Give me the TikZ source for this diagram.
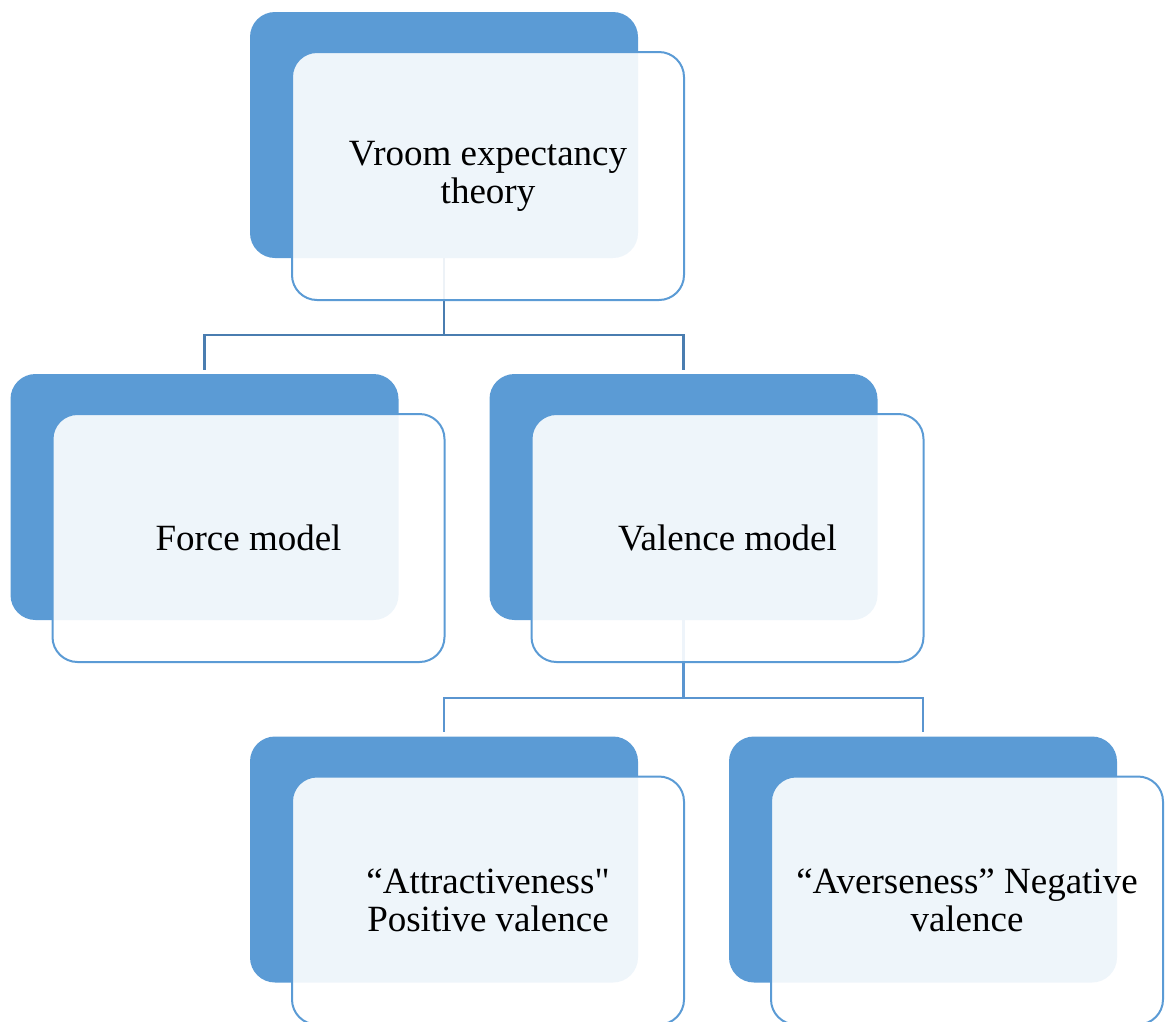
\documentclass[tikz,border=0pt]{standalone}
\usepackage{fontspec}
\setmainfont{Liberation Serif}
\newfontfamily\plainquote{Liberation Serif}
\definecolor{accent}{HTML}{5B9BD5}
\definecolor{linkA}{HTML}{4A7DB0}
\definecolor{linkB}{HTML}{5A95D0}
\begin{document}
\begin{tikzpicture}[x=1pt,y=-1pt,
  backbox/.style={rectangle, rounded corners=25pt, fill=accent, draw=none,
    minimum width=388pt, minimum height=246pt, inner sep=0pt},
  frontbox/.style={rectangle, rounded corners=25pt, fill=white, fill opacity=0.9,
    text opacity=1, draw=accent, line width=2pt,
    minimum width=392pt, minimum height=248pt, inner sep=0pt,
    align=center, font=\fontsize{37}{38}\selectfont},
  linkpath/.style={line width=2.5pt}
]
\useasboundingbox (0,0) rectangle (1165,1021);
\clip (0,0) rectangle (1165,1021);
% back boxes
\node[backbox] (b1) at (444,135) {};
\node[backbox] (b2) at (204.5,497) {};
\node[backbox] (b3) at (683.5,497) {};
\node[backbox] (b4) at (444,859.5) {};
\node[backbox] (b5) at (923,859.5) {};
% connectors
\coordinate (j1) at (444,335);
\coordinate (j2) at (683.5,698);
\draw[linkpath, draw=linkA] (b1.south) -- (j1);
\draw[linkpath, draw=linkA] (j1) -| ([yshift=4pt]b2.north);
\draw[linkpath, draw=linkA] (j1) -| ([yshift=4pt]b3.north);
\draw[linkpath, draw=linkB] (b3.south) -- (j2);
\draw[linkpath, draw=linkB] (j2) -| ([yshift=4pt]b4.north);
\draw[linkpath, draw=linkB] (j2) -| ([yshift=4pt]b5.north);
% front boxes
\node[frontbox] (f1) at (488,176) {Vroom expectancy\\theory};
\node[frontbox] (f2) at (248.5,538) {Force model};
\node[frontbox] (f3) at (727.5,538) {Valence model};
\node[frontbox] (f4) at (488,900.5) {“Attractiveness{\plainquote"}\\Positive valence};
\node[frontbox] (f5) at (967,900.5) {“Averseness” Negative\\valence};
\end{tikzpicture}
\end{document}
